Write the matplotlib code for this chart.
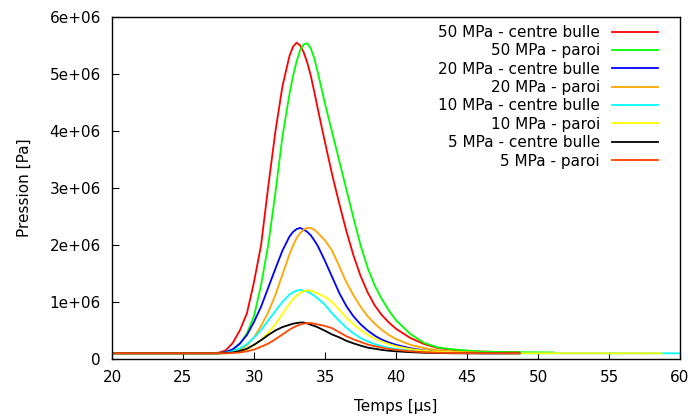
import numpy as np
import matplotlib
matplotlib.use('Agg')
import matplotlib.pyplot as plt
from matplotlib.ticker import FuncFormatter

# time grid [us], shared by all series
t = [20, 27, 27.5, 28, 28.5, 29, 29.5, 30, 30.5, 31, 31.5, 32, 32.5,
     32.75, 33, 33.25, 33.5, 33.75, 34, 34.25,
     34.5, 35, 35.5, 36, 36.5, 37, 37.5, 38, 38.5, 39, 39.5, 40,
     41, 42, 43, 44, 45, 46, 48]

# pressures in MPa
p50_centre = [0.10, 0.10, 0.11, 0.15, 0.28, 0.50, 0.80, 1.35, 2.00, 3.02, 3.98, 4.78, 5.32,
              5.48, 5.55, 5.50, 5.38, 5.20, 4.97, 4.68,
              4.38, 3.80, 3.24, 2.73, 2.25, 1.82, 1.46, 1.17, 0.94, 0.77, 0.64, 0.53,
              0.37, 0.26, 0.19, 0.16, 0.14, 0.13, 0.12]
p50_paroi = [0.10, 0.10, 0.10, 0.12, 0.16, 0.26, 0.45, 0.75, 1.30, 2.00, 2.90, 3.90, 4.65,
             4.97, 5.22, 5.42, 5.52, 5.54, 5.45, 5.27,
             5.02, 4.48, 3.98, 3.48, 2.98, 2.48, 2.00, 1.60, 1.29, 1.05, 0.85, 0.68,
             0.44, 0.28, 0.20, 0.17, 0.15, 0.13, 0.12]
p20_centre = [0.10, 0.10, 0.10, 0.12, 0.17, 0.27, 0.42, 0.65, 0.92, 1.25, 1.58, 1.90, 2.15,
              2.23, 2.28, 2.30, 2.27, 2.23, 2.17, 2.08,
              1.98, 1.72, 1.44, 1.16, 0.93, 0.75, 0.61, 0.50, 0.41, 0.34, 0.29, 0.25,
              0.19, 0.15, 0.13, 0.12, 0.11, 0.10, 0.10]
p20_paroi = [0.10, 0.10, 0.10, 0.10, 0.12, 0.16, 0.24, 0.38, 0.58, 0.82, 1.12, 1.48, 1.84,
             1.99, 2.12, 2.21, 2.27, 2.30, 2.30, 2.27,
             2.21, 2.08, 1.90, 1.63, 1.35, 1.12, 0.92, 0.75, 0.62, 0.51, 0.42, 0.35,
             0.25, 0.19, 0.15, 0.13, 0.12, 0.11, 0.10]
p10_centre = [0.10, 0.10, 0.10, 0.11, 0.135, 0.185, 0.26, 0.375, 0.51, 0.675, 0.84, 1.00, 1.13,
              1.17, 1.20, 1.21, 1.20, 1.18, 1.15, 1.11,
              1.06, 0.95, 0.80, 0.67, 0.55, 0.45, 0.37, 0.31, 0.26, 0.225, 0.195, 0.175,
              0.145, 0.125, 0.115, 0.11, 0.105, 0.10, 0.10]
p10_paroi = [0.10, 0.10, 0.10, 0.10, 0.11, 0.13, 0.17, 0.24, 0.34, 0.46, 0.61, 0.79, 0.97,
             1.05, 1.11, 1.16, 1.19, 1.205, 1.20, 1.18,
             1.15, 1.09, 1.00, 0.865, 0.725, 0.61, 0.51, 0.425, 0.36, 0.305, 0.26, 0.225,
             0.175, 0.145, 0.125, 0.115, 0.11, 0.105, 0.10]
p5_centre = [0.10, 0.10, 0.10, 0.105, 0.115, 0.14, 0.18, 0.25, 0.33, 0.42, 0.50, 0.56, 0.60,
             0.62, 0.63, 0.64, 0.64, 0.625, 0.60, 0.58,
             0.555, 0.495, 0.43, 0.38, 0.32, 0.275, 0.235, 0.20, 0.18, 0.16, 0.145, 0.135,
             0.12, 0.11, 0.105, 0.10, 0.10, 0.10, 0.10]
p5_paroi = [0.10, 0.10, 0.10, 0.10, 0.105, 0.115, 0.135, 0.165, 0.215, 0.27, 0.345, 0.43, 0.515,
            0.55, 0.58, 0.605, 0.62, 0.63, 0.63, 0.62,
            0.605, 0.58, 0.54, 0.47, 0.40, 0.345, 0.30, 0.255, 0.225, 0.20, 0.175, 0.16,
            0.135, 0.12, 0.11, 0.105, 0.10, 0.10, 0.10]

# last sample of each run (time, MPa)
t_last = [48.7, 51.1, 48.7, 48.7, 60.0, 58.7, 48.7, 48.7]
p_last = [0.12, 0.115, 0.10, 0.10, 0.10, 0.10, 0.10, 0.10]

labels = ['50 MPa - centre bulle', '50 MPa - paroi', '20 MPa - centre bulle', '20 MPa - paroi',
          '10 MPa - centre bulle', '10 MPa - paroi', '5 MPa - centre bulle', '5 MPa - paroi']
colors = ['#ff0000', '#00ff00', '#0000ff', '#ffa500', '#00ffff', '#ffff00', '#000000', '#ff4500']
series = [p50_centre, p50_paroi, p20_centre, p20_paroi, p10_centre, p10_paroi, p5_centre, p5_paroi]

plt.rcParams['font.family'] = ['DejaVu Sans']
plt.rcParams['font.size'] = 11

fig = plt.figure(figsize=(6.89, 4.19), dpi=100)
ax = fig.add_axes([112/689, 1 - 359/419, (680 - 112)/689, (359 - 17)/419])

for vals, tl, pl, c, lab in zip(series, t_last, p_last, colors, labels):
    x = np.array(t + [tl])
    y = np.array(vals + [pl]) * 1e6
    ax.plot(x, y, color=c, lw=1.3, label=lab)

ax.set_xlim(20, 60)
ax.set_ylim(0, 6e6)
ax.set_xticks(np.arange(20, 61, 5))
ax.set_yticks(np.arange(0, 6.1e6, 1e6))
ax.yaxis.set_major_formatter(FuncFormatter(lambda v, _: '0' if v == 0 else '%g' % v))
ax.tick_params(axis='y', direction='in', length=5, width=0.8, right=False, pad=8)
ax.tick_params(axis='x', direction='in', length=5, width=0.8, top=False, pad=8)
for s in ax.spines.values():
    s.set_linewidth(1.0)

ax.set_xlabel('Temps [µs]', labelpad=10)
ax.set_ylabel('Pression [Pa]', labelpad=13)

ax.legend(loc='upper right', frameon=False, markerfirst=False, handlelength=3.0,
          labelspacing=0.22, handletextpad=0.8, borderpad=0, borderaxespad=0,
          bbox_to_anchor=(1 - 22/568, 1 - 8/342))

fig.savefig('out.png', dpi=100)
